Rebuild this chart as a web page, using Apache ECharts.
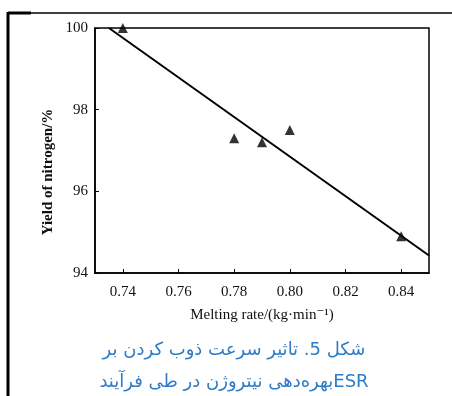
<!DOCTYPE html>
<html>
<head>
<meta charset="utf-8">
<script src="https://cdn.jsdelivr.net/npm/echarts@6/dist/echarts.min.js"></script>
<style>
  html, body { margin: 0; padding: 0; background: #fff; }
  #main { width: 452px; height: 396px; }
</style>
</head>
<body>
<div id="main"></div>
<script>
// measured points (melting rate, yield)
const meltingRate = [0.74, 0.78, 0.79, 0.80, 0.84];
const nitrogenYield = [100.0, 97.3, 97.2, 97.5, 94.9];
// fitted line end points
const fitX = [0.735, 0.85];
const fitY = [100.0, 94.43];
const xTicks = [0.74, 0.76, 0.78, 0.80, 0.82, 0.84];
const yTicks = [94, 96, 98, 100];

const chart = echarts.init(document.getElementById("main"));
const serif = "'Liberation Serif', 'DejaVu Serif', serif";

const option = {
  backgroundColor: "#fff",
  animation: false,
  grid: { left: 95, right: 23, top: 28, bottom: 123, show: true, borderColor: "#000", borderWidth: 1.5 },
  xAxis: {
    type: "value",
    min: 0.73,
    max: 0.85,
    interval: 0.01,
    name: "Melting rate/(kg·min⁻¹)",
    nameLocation: "middle",
    nameGap: 35,
    nameTextStyle: { fontFamily: serif, fontSize: 15, color: "#111" },
    axisLine: { lineStyle: { color: "#000", width: 1.5 } },
    axisTick: { inside: true, length: 4, lineStyle: { color: "#000" }, customValues: xTicks },
    axisLabel: {
      fontFamily: serif, fontSize: 15, color: "#111", margin: 12,
      customValues: xTicks,
      formatter: v => v.toFixed(2)
    },
    splitLine: { show: false }
  },
  yAxis: {
    type: "value",
    min: 94,
    max: 100,
    interval: 2,
    axisLine: { lineStyle: { color: "#000", width: 1.5 } },
    axisTick: { inside: true, length: 4, lineStyle: { color: "#000" }, customValues: yTicks },
    axisLabel: { fontFamily: serif, fontSize: 15, color: "#111", margin: 7, customValues: yTicks },
    splitLine: { show: false }
  },
  series: [
    {
      type: "line",
      data: fitX.map((x, i) => [x, fitY[i]]),
      symbol: "none",
      lineStyle: { color: "#000", width: 2 },
      clip: true
    },
    {
      type: "scatter",
      data: meltingRate.map((x, i) => [x, nitrogenYield[i]]),
      symbol: "triangle",
      symbolSize: 10,
      itemStyle: { color: "#000" }
    }
  ],
  graphic: [
    { type: "line", shape: { x1: 8, y1: 12, x2: 8, y2: 396 }, style: { stroke: "#000", lineWidth: 3 } },
    { type: "line", shape: { x1: 8, y1: 13, x2: 31, y2: 13 }, style: { stroke: "#000", lineWidth: 3 } },
    { type: "line", shape: { x1: 31, y1: 13, x2: 452, y2: 13 }, style: { stroke: "#000", lineWidth: 1.5 } },
    { type: "text", x: 48, y: 172, rotation: Math.PI / 2, style: {
      text: "Yield of nitrogen/%", font: "bold 15px 'Liberation Serif', serif", fill: "#111",
      align: "center", verticalAlign: "middle" } },
    { type: "text", x: 234, y: 350, style: {
      text: "شکل 5. تاثیر سرعت ذوب کردن بر", font: "18px 'DejaVu Sans', sans-serif", fill: "#2f7bc4",
      align: "center", verticalAlign: "middle" } },
    { type: "text", x: 234, y: 382, style: {
      text: "بهره‌دهی نیتروژن در طی فرآیندESR", font: "18px 'DejaVu Sans', sans-serif", fill: "#2f7bc4",
      align: "center", verticalAlign: "middle" } }
  ]
};

chart.setOption(option);
</script>
</body>
</html>
